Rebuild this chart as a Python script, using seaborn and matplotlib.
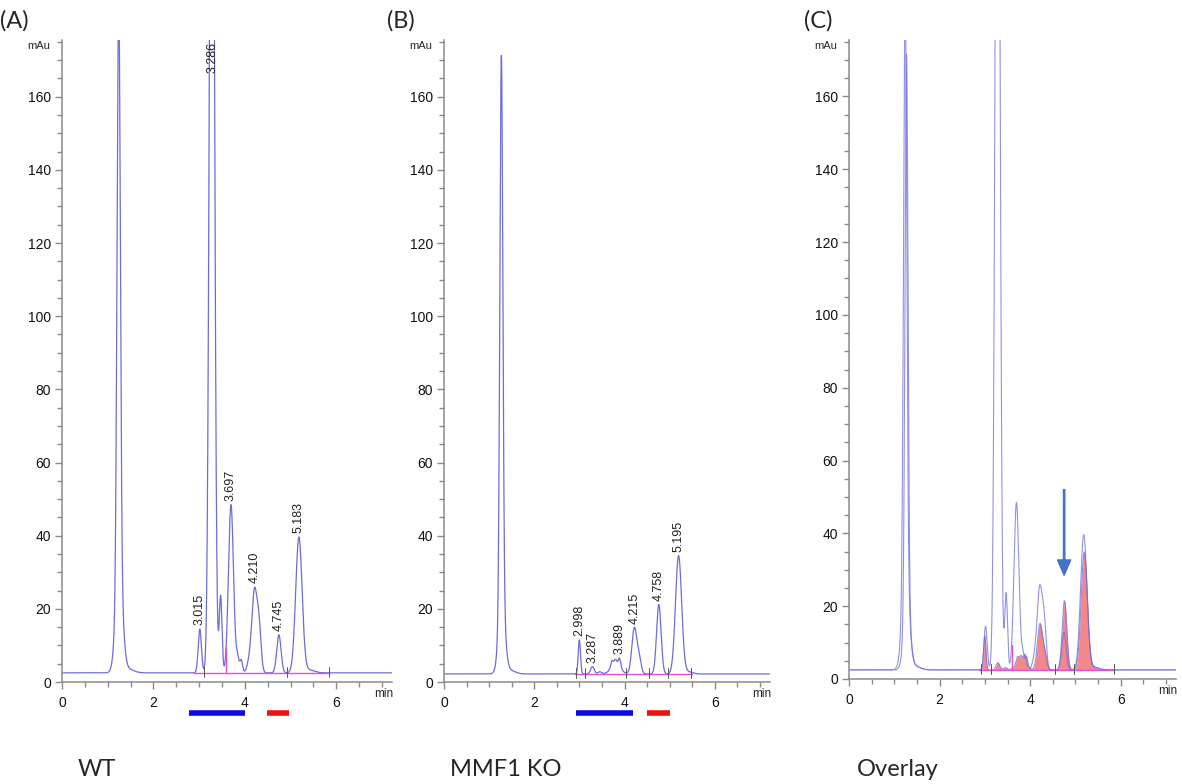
import numpy as np
import pandas as pd
import matplotlib
matplotlib.use("Agg")
import matplotlib.pyplot as plt
import seaborn as sns

# Peak tables:
# retention time (min), height above baseline (mAu), peak sigma (min)
wt_times = [1.24, 1.25, 1.45, 3.015, 3.28, 3.47, 3.697, 3.84, 3.92, 4.10, 4.21, 4.31, 4.745, 5.183, 5.40]
wt_heights = [160, 28, 1.0, 12, 320, 21, 46, 4, 3.5, 3, 22, 12, 10.4, 37, 0.8]
wt_sigmas = [0.035, 0.075, 0.12, 0.035, 0.05, 0.03, 0.055, 0.03, 0.03, 0.05, 0.055, 0.045, 0.047, 0.07, 0.12]
wt_baseline = 2.5

ko_times = [1.27, 1.28, 1.45, 2.998, 3.287, 3.45, 3.80, 3.72, 3.80, 3.889, 4.215, 4.32, 4.758, 5.195, 5.40]
ko_heights = [150, 19, 1.0, 9.3, 2.0, 0.6, 3.0, 1.5, 1.0, 2.3, 12.5, 4.0, 19.0, 32.3, 0.6]
ko_sigmas = [0.033, 0.07, 0.12, 0.025, 0.04, 0.04, 0.1, 0.025, 0.025, 0.025, 0.055, 0.045, 0.05, 0.068, 0.1]
ko_baseline = 2.2

# labelled retention times
wt_labels = ["3.015", "3.286", "3.697", "4.210", "4.745", "5.183"]
ko_labels = ["2.998", "3.287", "3.889", "4.215", "4.758", "5.195"]

# integration marks (baseline span, drop line, peak boundary ticks)
wt_int_span = [2.88, 5.85]
wt_drop = [3.59]
wt_ticks = [3.10, 4.93, 5.85]
ko_int_span = [2.90, 5.50]
ko_ticks = [2.92, 3.13, 4.02, 4.54, 4.96, 5.47]
ov_ticks = [2.92, 3.13, 4.54, 4.96, 5.85]

# collection windows under panels A and B
wt_blue = [2.77, 4.01]
wt_red = [4.48, 4.97]
ko_blue = [2.93, 4.18]
ko_red = [4.50, 5.00]

# arrow in overlay
arrow_x = 4.75
arrow_y = [52, 28.5]

TRACE = "#6c6cdc"
MAGENTA = "#e04fd8"
FILL = "#f5878b"

t = np.linspace(0, 7.25, 4000)


def trace(times, heights, sigmas, base):
    y = np.full_like(t, base)
    for c, h, s in zip(times, heights, sigmas):
        y += h * np.exp(-0.5 * ((t - c) / s) ** 2)
    return y


wt = pd.DataFrame({"time": t, "signal": trace(wt_times, wt_heights, wt_sigmas, wt_baseline)})
ko = pd.DataFrame({"time": t, "signal": trace(ko_times, ko_heights, ko_sigmas, ko_baseline)})

sns.set_style("white")
plt.rcParams["font.family"] = ["Liberation Sans", "DejaVu Sans"]

fig = plt.figure(figsize=(11.82, 7.84), dpi=100)
W, H = 1182, 784
YTOP = 175.5
XMAX = 7.22


def make_axes(left, right, top, bottom):
    ax = fig.add_axes([left / W, 1 - bottom / H, (right - left) / W, (bottom - top) / H])
    ax.set_xlim(0, XMAX)
    ax.set_ylim(0, YTOP)
    sns.despine(ax=ax)
    for sp in ["left", "bottom"]:
        ax.spines[sp].set_color("#8a8a8a")
        ax.spines[sp].set_linewidth(1.1)
    ax.set_xticks([0, 2, 4, 6])
    ax.set_xticks(np.arange(0.5, 7.2, 0.5), minor=True)
    ax.set_yticks(np.arange(0, 161, 20))
    ax.set_yticks(np.arange(5, YTOP, 5), minor=True)
    ax.tick_params(axis="both", which="both", left=True, bottom=True, direction="out", width=1,
                   color="#8a8a8a")
    ax.tick_params(axis="both", which="major", length=5, labelsize=10, labelcolor="#111111", pad=3)
    ax.tick_params(axis="both", which="minor", length=3.5)
    ax.tick_params(axis="x", which="major", pad=5)
    ax.grid(False)
    ax.text(-0.035, 0.99, "mAu", transform=ax.transAxes, ha="right", va="center", fontsize=8)
    ax.text(1.005, -0.018, "min", transform=ax.transAxes, ha="right", va="center", fontsize=8.5)
    return ax


def label_peaks(ax, df, labels):
    for lab in labels:
        x = float(lab)
        win = df[(df["time"] > x - 0.05) & (df["time"] < x + 0.05)]
        top = win["signal"].max()
        if top > YTOP - 12:
            ax.text(x, YTOP - 0.5, lab, rotation=90, ha="center", va="top", fontsize=9, color="#222222")
        else:
            ax.text(x, top + 1.0, lab, rotation=90, ha="center", va="bottom", fontsize=9, color="#222222")


def marks(ax, span, base, ticks, drops=(), df=None):
    ax.plot(span, [base, base], color=MAGENTA, lw=1.0, zorder=3)
    for x in ticks:
        ax.plot([x, x], [base - 1.2, base + 1.6], color="#555555", lw=0.7, zorder=3)
    for x in drops:
        yv = np.interp(x, df["time"], df["signal"])
        ax.plot([x, x], [base, yv], color=MAGENTA, lw=1.0, zorder=3)


def bar(ax, span, color):
    tr = ax.get_xaxis_transform()
    ax.plot(span, [-0.048, -0.048], transform=tr, color=color, lw=4, clip_on=False,
            solid_capstyle="butt")


# (A) WT
axA = make_axes(62, 392, 40, 682)
sns.lineplot(data=wt, x="time", y="signal", ax=axA, color=TRACE, linewidth=0.9, estimator=None, sort=False)
marks(axA, wt_int_span, wt_baseline, wt_ticks, wt_drop, wt)
label_peaks(axA, wt, wt_labels)
bar(axA, wt_blue, "#0a0ae6")
bar(axA, wt_red, "#f01010")
axA.set_xlabel("")
axA.set_ylabel("")

# (B) MMF1 KO
axB = make_axes(444, 770, 40, 682)
sns.lineplot(data=ko, x="time", y="signal", ax=axB, color=TRACE, linewidth=0.9, estimator=None, sort=False)
marks(axB, ko_int_span, ko_baseline, ko_ticks)
label_peaks(axB, ko, ko_labels)
bar(axB, ko_blue, "#0a0ae6")
bar(axB, ko_red, "#f01010")
axB.set_xlabel("")
axB.set_ylabel("")

# (C) Overlay
axC = make_axes(849, 1176, 40, 679)
ko_c = ko.assign(signal=ko["signal"] + (wt_baseline - ko_baseline))
win = (ko_c["time"] >= 2.9) & (ko_c["time"] <= 5.85)
axC.fill_between(ko_c["time"][win], wt_baseline, ko_c["signal"][win], color=FILL, lw=0, zorder=1)
sns.lineplot(data=wt, x="time", y="signal", ax=axC, color=TRACE, linewidth=0.8, alpha=0.75,
             estimator=None, sort=False)
sns.lineplot(data=ko_c, x="time", y="signal", ax=axC, color=TRACE, linewidth=0.8, alpha=0.75,
             estimator=None, sort=False)
marks(axC, wt_int_span, wt_baseline, ov_ticks, wt_drop, wt)
axC.annotate("", xy=(arrow_x, arrow_y[1]), xytext=(arrow_x, arrow_y[0]),
             arrowprops=dict(color="#4472c4", width=1.0, headwidth=9.5, headlength=11))
axC.set_xlabel("")
axC.set_ylabel("")

# panel letters and captions
for x, s in [(0.0, "(A)"), (0.327, "(B)"), (0.680, "(C)")]:
    fig.text(x, 0.974, s, fontsize=17, family=["Lato", "DejaVu Sans"], va="center", ha="left")
for x, s in [(0.066, "WT"), (0.381, "MMF1 KO"), (0.725, "Overlay")]:
    fig.text(x, 0.018, s, fontsize=17, family=["Lato", "DejaVu Sans"], va="center", ha="left")

fig.savefig("out.png", dpi=100)
